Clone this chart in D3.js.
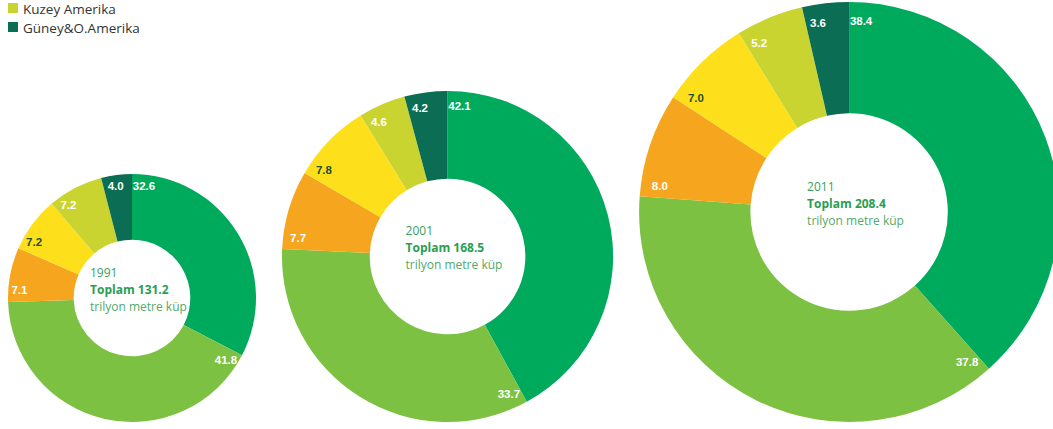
<!DOCTYPE html>
<html>
<head>
<meta charset="utf-8">
<script src="https://cdn.jsdelivr.net/npm/d3@7"></script>
<style>
  html, body { margin: 0; padding: 0; background: #fff; }
  svg { display: block; }
</style>
</head>
<body>
<svg id="chart" width="1053" height="429"></svg>
<script>
// Kanıtlanmış doğal gaz rezervlerinin bölgelere göre dağılımı (%)
const regions = ["Orta Doğu", "Avrupa&Avrasya", "Asya Pasifik", "Afrika", "Kuzey Amerika", "Güney&O.Amerika"];
const years = ["1991", "2001", "2011"];
const totals = [131.2, 168.5, 208.4];
const shares1991 = [32.6, 41.8, 7.1, 7.2, 7.2, 4.0];
const shares2001 = [42.1, 33.7, 7.7, 7.8, 4.6, 4.2];
const shares2011 = [38.4, 37.8, 8.0, 7.0, 5.2, 3.6];
const legendRegions = ["Kuzey Amerika", "Güney&O.Amerika"];

const palette = ["#00aa5d", "#7dc142", "#f6a51f", "#fde01b", "#c9d431", "#0a6d54"];
const labelInk = ["#ffffff", "#ffffff", "#ffffff", "#1f4f2c", "#ffffff", "#ffffff"];

const svg = d3.select("#chart");
const color = d3.scaleOrdinal().domain(regions).range(palette);
const ink = d3.scaleOrdinal().domain(regions).range(labelInk);

// ring size grows with the total reserve
const radius = d3.scaleLinear().domain(d3.extent(totals)).range([124, 210]);

const series = [shares1991, shares2001, shares2011];
const pie = d3.pie().sort(null).value(d => d.v);

const baseY = 422, gap = 26;
let left = 8;

years.forEach((year, i) => {
  const R = radius(totals[i]);
  const r0 = R * 0.47;
  const cx = left + R;
  const cy = baseY - R;
  left = cx + R + gap;

  const data = regions.map((name, k) => ({ name, v: series[i][k] }));
  const arcs = pie(data);
  const arc = d3.arc().innerRadius(r0).outerRadius(R);

  const g = svg.append("g").attr("transform", `translate(${cx},${cy})`);

  g.selectAll("path")
    .data(arcs)
    .join("path")
    .attr("d", arc)
    .attr("fill", d => color(d.data.name));

  // value labels sit just past the start of each slice, near the outer rim
  const rl = R * 0.91;
  g.selectAll("text.val")
    .data(arcs)
    .join("text")
    .attr("class", "val")
    .attr("x", d => rl * Math.sin(d.startAngle + 12 / rl))
    .attr("y", d => -rl * Math.cos(d.startAngle + 12 / rl))
    .attr("text-anchor", "middle")
    .attr("dominant-baseline", "central")
    .attr("font-family", "'Liberation Sans', Arial, sans-serif")
    .attr("font-weight", "bold")
    .attr("font-size", 11.5)
    .attr("fill", d => ink(d.data.name))
    .text(d => d3.format(".1f")(d.data.v));

  // centre caption
  const cap = g.append("text")
    .attr("font-family", "'Open Sans', sans-serif")
    .attr("font-size", 12);
  cap.append("tspan").attr("x", -42).attr("y", -21).attr("fill", "#3b9e5d").text(year);
  cap.append("tspan").attr("x", -42).attr("y", -4).attr("fill", "#2a9e50")
    .attr("font-weight", "bold").text("Toplam " + d3.format(".1f")(totals[i]));
  cap.append("tspan").attr("x", -42).attr("y", 13).attr("fill", "#52a96a").text("trilyon metre küp");
});

// legend (last two regions)
const legend = svg.append("g").attr("transform", "translate(8,3)");
const rows = legend.selectAll("g")
  .data(legendRegions)
  .join("g")
  .attr("transform", (d, k) => `translate(0,${k * 19})`);
rows.append("rect").attr("width", 10).attr("height", 10).attr("fill", d => color(d));
rows.append("text")
  .attr("x", 15).attr("y", 5.5)
  .attr("dominant-baseline", "central")
  .attr("font-family", "'Open Sans', sans-serif")
  .attr("font-size", 13.5)
  .attr("fill", "#333")
  .text(d => d);
</script>
</body>
</html>
